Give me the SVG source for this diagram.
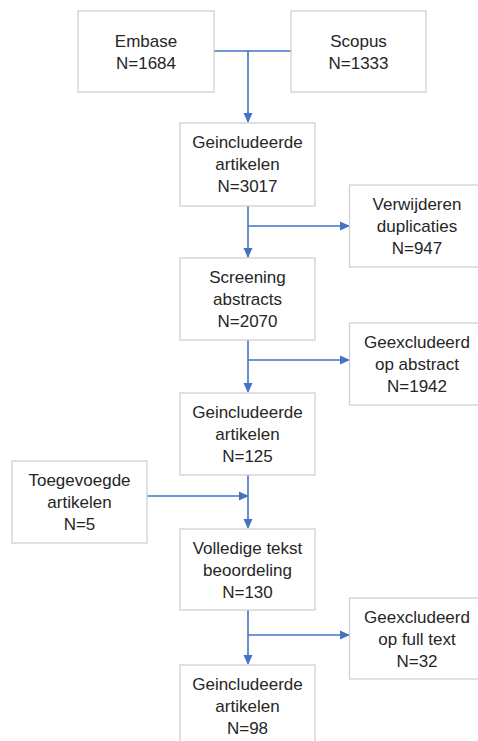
<svg xmlns="http://www.w3.org/2000/svg" width="478" height="741" viewBox="0 0 478 741">
<defs>
<style>
.box{fill:#ffffff;stroke:#d0d0d0;stroke-width:1.3}
.t{font-family:"Liberation Sans",Arial,sans-serif;font-size:17px;fill:#262626;text-anchor:middle}
.c{fill:none;stroke:#4472c4;stroke-width:1.6}
</style>
<marker id="ah" markerWidth="10" markerHeight="10" refX="9" refY="5" orient="auto" markerUnits="userSpaceOnUse">
<path d="M0,0.5 L10,5 L0,9.5 Z" fill="#4472c4"/>
</marker>
</defs>
<rect width="478" height="741" fill="#ffffff"/>
<g id="connectors">
<path class="c" d="M214,51 H291"/>
<path class="c" d="M248,51 V122" marker-end="url(#ah)"/>
<path class="c" d="M248,206 V257" marker-end="url(#ah)"/>
<path class="c" d="M248,226 H349" marker-end="url(#ah)"/>
<path class="c" d="M248,340 V392" marker-end="url(#ah)"/>
<path class="c" d="M248,360 H349" marker-end="url(#ah)"/>
<path class="c" d="M248,475 V528" marker-end="url(#ah)"/>
<path class="c" d="M147,496 H248" marker-end="url(#ah)"/>
<path class="c" d="M248,610 V664" marker-end="url(#ah)"/>
<path class="c" d="M248,635 H349" marker-end="url(#ah)"/>
</g>
<g id="embase">
<rect class="box" x="78" y="11" width="136" height="81"/>
<text class="t" x="146" y="46.7">Embase</text>
<text class="t" x="146" y="68.5">N=1684</text>
</g>
<g id="scopus">
<rect class="box" x="291" y="11" width="135" height="81"/>
<text class="t" x="358.5" y="46.7">Scopus</text>
<text class="t" x="358.5" y="68.5">N=1333</text>
</g>
<g id="incl1">
<rect class="box" x="180" y="123" width="135" height="83"/>
<text class="t" x="247.5" y="147.5">Geincludeerde</text>
<text class="t" x="247.5" y="169.5">artikelen</text>
<text class="t" x="247.5" y="191.5">N=3017</text>
</g>
<g id="dupl">
<rect class="box" x="349.5" y="185" width="135" height="82"/>
<text class="t" x="417" y="209.5">Verwijderen</text>
<text class="t" x="417" y="231.5">duplicaties</text>
<text class="t" x="417" y="253.5">N=947</text>
</g>
<g id="screening">
<rect class="box" x="180" y="258" width="135" height="82"/>
<text class="t" x="247.5" y="282.5">Screening</text>
<text class="t" x="247.5" y="304.5">abstracts</text>
<text class="t" x="247.5" y="326.5">N=2070</text>
</g>
<g id="excl1">
<rect class="box" x="349.5" y="323" width="135" height="82"/>
<text class="t" x="417" y="347.5">Geexcludeerd</text>
<text class="t" x="417" y="369.5">op abstract</text>
<text class="t" x="417" y="391.5">N=1942</text>
</g>
<g id="incl2">
<rect class="box" x="180" y="393" width="135" height="82"/>
<text class="t" x="247.5" y="417.5">Geincludeerde</text>
<text class="t" x="247.5" y="439.5">artikelen</text>
<text class="t" x="247.5" y="461.5">N=125</text>
</g>
<g id="added">
<rect class="box" x="12" y="461" width="135" height="82"/>
<text class="t" x="79.5" y="485.5">Toegevoegde</text>
<text class="t" x="79.5" y="507.5">artikelen</text>
<text class="t" x="79.5" y="529.5">N=5</text>
</g>
<g id="fulltext">
<rect class="box" x="180" y="529" width="135" height="81"/>
<text class="t" x="247.5" y="553.5">Volledige tekst</text>
<text class="t" x="247.5" y="575.5">beoordeling</text>
<text class="t" x="247.5" y="597.5">N=130</text>
</g>
<g id="excl2">
<rect class="box" x="349.5" y="598" width="135" height="81"/>
<text class="t" x="417" y="622.5">Geexcludeerd</text>
<text class="t" x="417" y="644.5">op full text</text>
<text class="t" x="417" y="666.5">N=32</text>
</g>
<g id="incl3">
<rect class="box" x="180" y="665" width="135" height="82"/>
<text class="t" x="247.5" y="689.5">Geincludeerde</text>
<text class="t" x="247.5" y="711.5">artikelen</text>
<text class="t" x="247.5" y="733.5">N=98</text>
</g>
</svg>
